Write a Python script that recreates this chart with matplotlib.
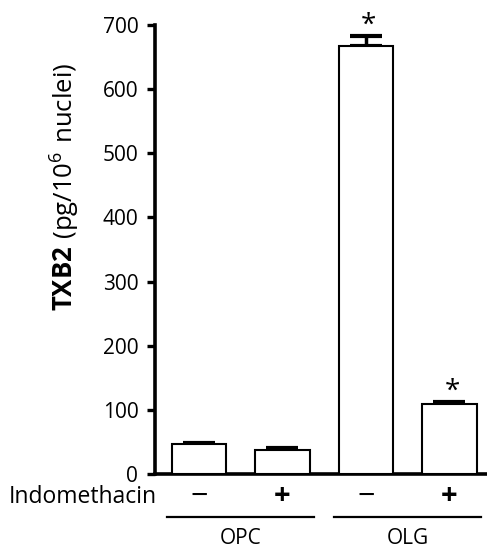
import matplotlib.pyplot as plt
from matplotlib.transforms import blended_transform_factory

plt.rcParams['font.family'] = ['Open Sans', 'DejaVu Sans']
plt.rcParams['mathtext.fontset'] = 'custom'
plt.rcParams['mathtext.rm'] = 'Open Sans'
plt.rcParams['mathtext.bf'] = 'Open Sans:bold'

# data
groups = ['OPC', 'OLG']
indo = ['\u2212', '+', '\u2212', '+']
txb2 = [46, 37, 667, 109]
err = [3, 3, 16, 4]
signif = [False, False, True, True]
yticks = [0, 100, 200, 300, 400, 500, 600, 700]

fig = plt.figure(figsize=(4.87, 5.5), dpi=100)
ax = fig.add_axes([155/487, 1 - 474/550, 1 - 155/487, 449/550])

x = list(range(len(txb2)))
ax.bar(x, txb2, width=0.65, color='white', edgecolor='black', linewidth=1.5, zorder=3)
ax.errorbar(x, txb2, yerr=[[0]*len(err), err], fmt='none', ecolor='black',
            elinewidth=2.5, capsize=11.5, capthick=3, zorder=2)

for xi, v, e, s in zip(x, txb2, err, signif):
    if s:
        ax.text(xi + 0.03, v + e - 6, '*', ha='center', va='bottom', fontsize=20, clip_on=False)

ax.set_xlim(-0.527, 3.45)
ax.set_ylim(0, 700)
ax.set_yticks(yticks)
ax.set_xticks([])
ax.tick_params(axis='y', direction='out', length=6, width=2.4, labelsize=15, pad=6)
for sp in ['top', 'right']:
    ax.spines[sp].set_visible(False)
for sp in ['left', 'bottom']:
    ax.spines[sp].set_linewidth(2.6)

# ylabel
fig.text(65/487, 1 - 187/550, r'$\mathbf{TXB2}\ \mathrm{(pg/10^{6}\ nuclei)}$',
         rotation=90, ha='center', va='center', fontsize=18.5)

# x annotation
tr = blended_transform_factory(ax.transData, ax.transAxes)
ax.text(0.006, -0.051, 'Indomethacin', transform=ax.transAxes, ha='right', va='center',
        fontsize=16.5, clip_on=False)
for xi, s in zip(x, indo):
    ax.text(xi, -0.051, s, transform=tr, ha='center', va='center',
            fontsize=21 if s == '+' else 22,
            fontweight='bold' if s == '+' else 'normal', clip_on=False)
for gi, g in enumerate(groups):
    x0, x1 = 2*gi - 0.38, 2*gi + 1.38
    ax.plot([x0, x1], [-0.096, -0.096], transform=tr, color='black', lw=1.6, clip_on=False)
    ax.text((x0 + x1)/2, -0.143, g, transform=tr, ha='center', va='center', fontsize=15,
            clip_on=False)

fig.savefig('out.png', dpi=100)
